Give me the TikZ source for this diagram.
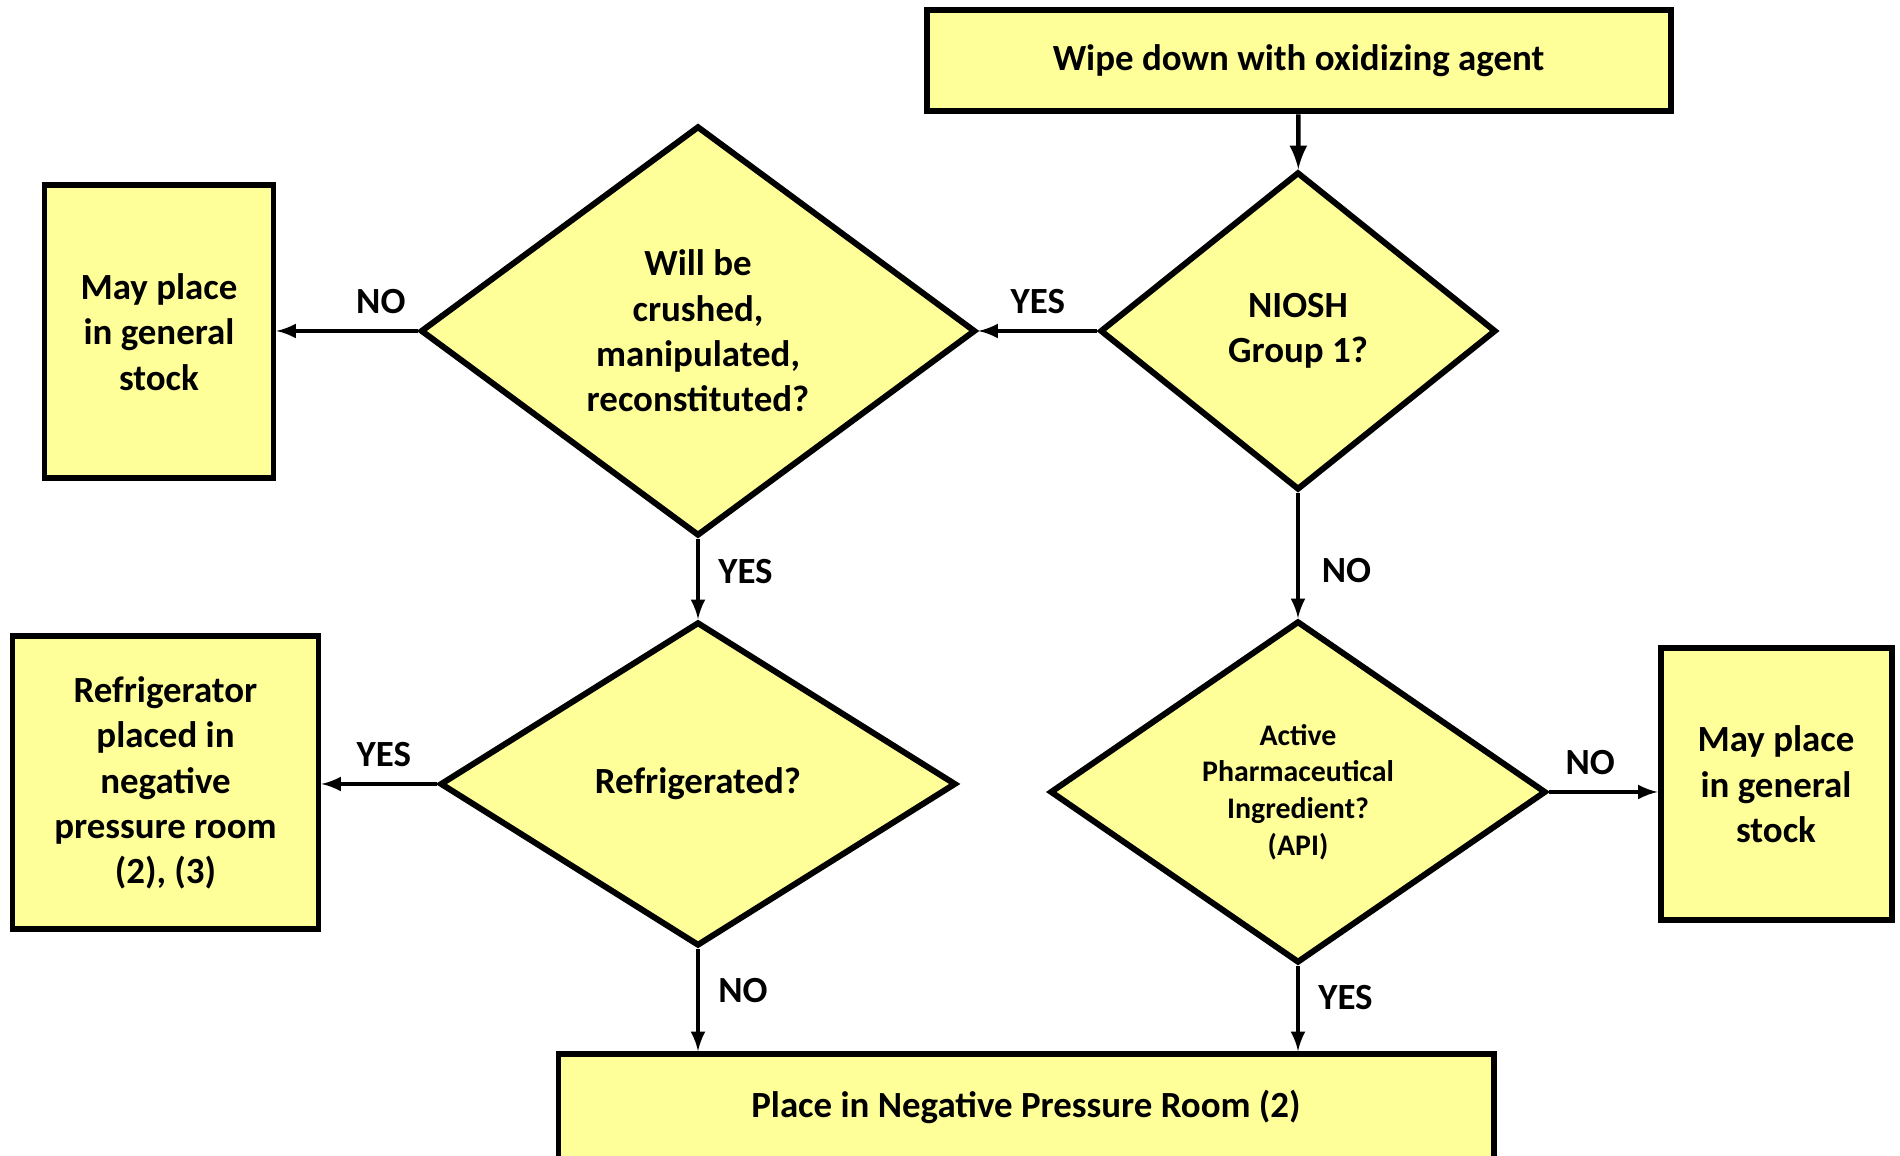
\documentclass[tikz,border=0pt]{standalone}
\usepackage{fontspec}
\setmainfont{Carlito}
\usetikzlibrary{shapes.geometric}
\definecolor{paleyellow}{RGB}{255,255,153}

\begin{document}
\begin{tikzpicture}[
	box/.style = {draw, line width = 1.7pt, fill = paleyellow, align = center, inner sep = 0pt, font = \bfseries\fontsize{10.5}{12.9}\selectfont},
	decision/.style = {box, diamond},
	link/.style = {arrows = {-latex}, line width = 0.9pt},
	answer/.style = {font = \bfseries\fontsize{10.5}{12.9}\selectfont}
]
	\useasboundingbox (0,0) rectangle (19,11.56);
	% boxes
	\node [box, minimum width = 7.44cm, minimum height = 1.01cm] (wipe) at (12.985,10.95) {Wipe down with oxidizing agent};
	\node [box, minimum width = 2.29cm, minimum height = 2.93cm] (generalL) at (1.59,8.24) {May place\\in general\\stock};
	\node [box, minimum width = 3.06cm, minimum height = 2.93cm] (fridgeroom) at (1.655,3.73) {Refrigerator\\placed in\\negative\\pressure room\\(2), (3)};
	\node [box, minimum width = 2.31cm, minimum height = 2.72cm] (generalR) at (17.76,3.715) {May place\\in general\\stock};
	\node [box, minimum width = 9.35cm, minimum height = 1.06cm] (negroom) at (10.26,0.49) {Place in Negative Pressure Room (2)};
	% decisions
	\node [decision, minimum width = 3.96cm, minimum height = 3.18cm] (niosh) at (12.98,8.25) {NIOSH\\Group 1?};
	\node [decision, minimum width = 5.55cm, minimum height = 4.10cm] (crushed) at (6.98,8.25) {Will be\\crushed,\\manipulated,\\reconstituted?};
	\node [decision, minimum width = 5.16cm, minimum height = 3.24cm] (refrig) at (6.98,3.72) {Refrigerated?};
	\node [decision, minimum width = 4.96cm, minimum height = 3.42cm, font = \bfseries\fontsize{8.5}{10.4}\selectfont] (api) at (12.98,3.64) {Active\\Pharmaceutical\\Ingredient?\\(API)};
	% connectors
	\draw [link, line width = 1.3pt] (wipe) -- (niosh);
	\draw [link] (niosh.west) -- (crushed.east) node [answer, midway, above = 1pt] {YES};
	\draw [link] (crushed.west) -- (crushed.west -| generalL.east) node [answer, pos = 0.26, above = 1pt] {NO};
	\draw [link] (crushed.south) -- (refrig.north) node [answer, pos = 0.41, right = 2pt] {YES};
	\draw [link] (niosh.south) -- (api.north) node [answer, pos = 0.62, right = 3pt] {NO};
	\draw [link] (refrig.west) -- (refrig.west -| fridgeroom.east) node [answer, pos = 0.46, above = 1pt] {YES};
	\draw [link] (refrig.south) -- (refrig.south |- negroom.north) node [answer, pos = 0.41, right = 2pt] {NO};
	\draw [link] (api.east) -- (api.east -| generalR.west) node [answer, pos = 0.38, above = 1pt] {NO};
	\draw [link] (api.south) -- (api.south |- negroom.north) node [answer, pos = 0.37, right = 2pt] {YES};
\end{tikzpicture}
\end{document}
